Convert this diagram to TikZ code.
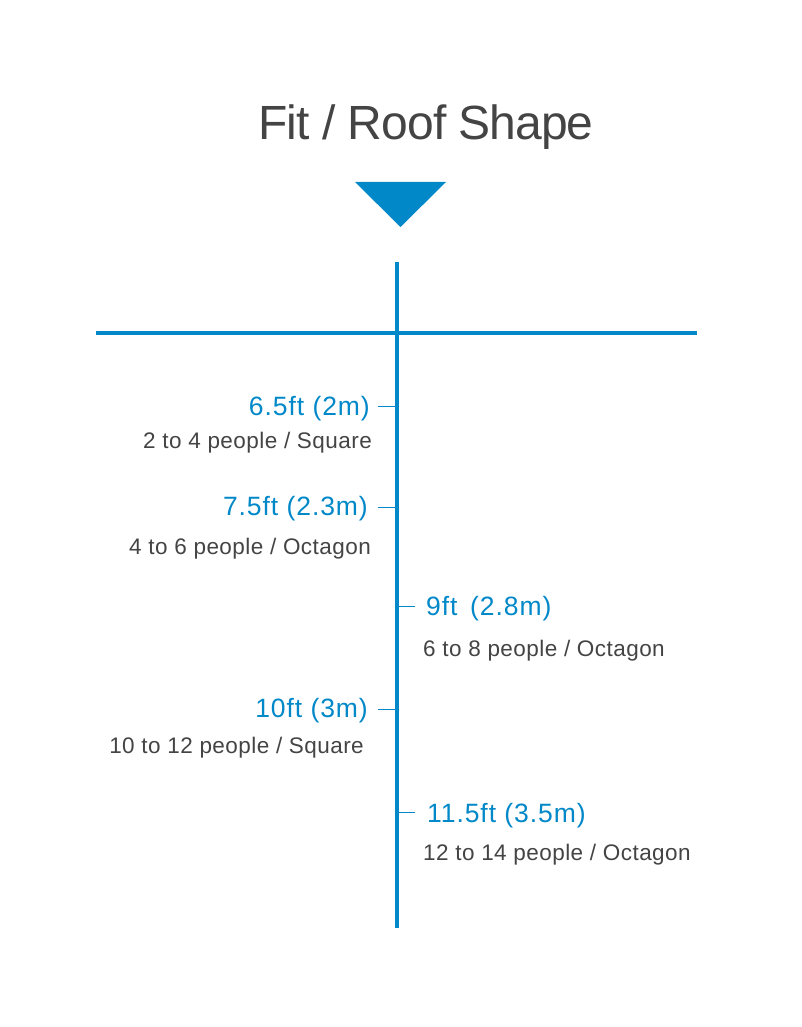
\documentclass[tikz,border=0pt]{standalone}
\usepackage{fontspec}
\setmainfont{Liberation Sans}
\definecolor{myblue}{HTML}{0088C8}
\definecolor{mygray}{HTML}{444444}
\begin{document}
\begin{tikzpicture}[x=1pt,y=-1pt,
  axis/.style={draw=myblue,line width=4.5pt},
  tick/.style={draw=myblue,line width=1pt},
  hval/.style={text=myblue,font=\fontsize{26.5}{30}\selectfont\addfontfeatures{LetterSpace=3.5},inner sep=0pt},
  hdesc/.style={text=mygray,font=\fontsize{22.5}{26}\selectfont\addfontfeatures{LetterSpace=2},inner sep=0pt},
  ttl/.style={text=mygray,font=\fontsize{48}{54}\selectfont\addfontfeatures{LetterSpace=-2},inner sep=0pt}]
\useasboundingbox[fill=white] (0,0) rectangle (801,1027);
\node[ttl,anchor=base] (title) at (426,140) {Fit / Roof Shape};
\fill[myblue] (355,182) -- (446,182) -- (400.5,227) -- cycle;
\coordinate (vtop) at (397,262);
\coordinate (vbot) at (397,928);
\coordinate (hl) at (96,333);
\coordinate (hr) at (697,333);
\draw[axis] (vtop) -- (vbot);
\draw[axis] (hl) -- (hr);
% labels
\node[hval,anchor=base east] (v1) at (370,415) {6.5ft (2m)};
\node[hdesc,anchor=base east] (d1) at (372,448) {2 to 4 people / Square};
\node[hval,anchor=base east] (v2) at (368,515) {7.5ft (2.3m)};
\node[hdesc,anchor=base east] (d2) at (371,554) {4 to 6 people / Octagon};
\node[hval,anchor=base west] (v3) at (426,615) {9ft\, (2.8m)};
\node[hdesc,anchor=base west] (d3) at (423,656) {6 to 8 people / Octagon};
\node[hval,anchor=base east] (v4) at (368,717) {10ft (3m)};
\node[hdesc,anchor=base east] (d4) at (364,753) {10 to 12 people / Square};
\node[hval,anchor=base west] (v5) at (427,822) {11.5ft (3.5m)};
\node[hdesc,anchor=base west] (d5) at (423,860) {12 to 14 people / Octagon};
% ticks
\coordinate (t1a) at (378,406); \coordinate (t1b) at (397,406);
\coordinate (t2a) at (378,507); \coordinate (t2b) at (397,507);
\coordinate (t3a) at (397,606); \coordinate (t3b) at (415,606);
\coordinate (t4a) at (378,709); \coordinate (t4b) at (397,709);
\coordinate (t5a) at (397,812); \coordinate (t5b) at (415,812);
\draw[tick] (t1a) -- (t1b);
\draw[tick] (t2a) -- (t2b);
\draw[tick] (t3a) -- (t3b);
\draw[tick] (t4a) -- (t4b);
\draw[tick] (t5a) -- (t5b);
\end{tikzpicture}
\end{document}
